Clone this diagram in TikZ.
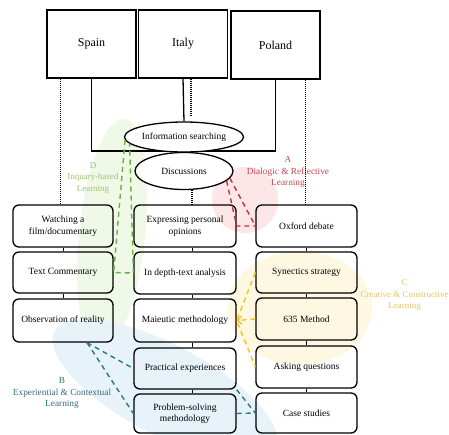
\documentclass[tikz,border=0pt]{standalone}
\usepackage{fontspec}
\setmainfont{Liberation Serif}
\usetikzlibrary{shapes.geometric,arrows.meta,calc}
\definecolor{bgred}{HTML}{FCE6E8}
\definecolor{bgyel}{HTML}{FEF8E3}
\definecolor{bgblue}{HTML}{E7F2F9}
\definecolor{bggreen}{HTML}{F0F8E8}
\definecolor{lred}{HTML}{C8303E}
\definecolor{lgreen}{HTML}{6AB23C}
\definecolor{lyel}{HTML}{F1C323}
\definecolor{lteal}{HTML}{2B7686}
\definecolor{tred}{HTML}{C44552}
\definecolor{tgreen}{HTML}{97C76F}
\definecolor{tyel}{HTML}{E6C36C}
\definecolor{tteal}{HTML}{2F6D7E}
\tikzset{
  country/.style={draw, line width=1.3pt, minimum width=89pt, minimum height=68pt, inner sep=0pt, font=\fontsize{12}{14}\selectfont},
  stepbox/.style={draw, line width=1.3pt, rounded corners=6pt, minimum width=100pt, minimum height=42pt, inner sep=0pt, align=center, font=\fontsize{9.5}{11.5}\selectfont},
  oval/.style={ellipse, draw, line width=1.3pt, fill=white, inner sep=0pt, minimum width=98pt, font=\fontsize{9.5}{11.5}\selectfont},
  grouplabel/.style={align=center, font=\fontsize{9.3}{11.5}\selectfont},
  dotline/.style={line width=1.3pt, dash pattern=on 1pt off 1pt},
  solidline/.style={line width=1.3pt},
  tick/.style={line width=1pt},
  gdash/.style={line width=1.4pt, dash pattern=on 5pt off 4pt}
}
\begin{document}
\begin{tikzpicture}[x=1pt,y=-1pt]
\useasboundingbox (0,0) rectangle (449,434);
% background blobs
\fill[bggreen, rotate around={-6:(112,235)}] (112,235) ellipse [x radius=33, y radius=117];
\fill[bgyel] (300,308) ellipse [x radius=72, y radius=57];
\fill[bgblue, rotate around={-28:(165,390)}] (165,390) ellipse [x radius=125, y radius=45];
\fill[bgred] (245,200) circle [radius=33];
% group labels
\node[grouplabel, text=tgreen, font=\fontsize{9}{11.5}\selectfont] (labD) at (93,178) {D\\Inquary-based\\Learning};
\node[grouplabel, text=tred] (labA) at (288,172) {A\\Dialogic \& Reflective\\Learning};
\node[grouplabel, text=tyel, font=\fontsize{9}{11.5}\selectfont] (labC) at (404.5,295) {C\\Creative \& Constructive\\Learning};
\node[grouplabel, text=tteal] (labB) at (62,393) {B\\Experiential \& Contextual\\Learning};
% countries
\node[country] (spain) at (91.5,44) {Spain};
\node[country] (italy) at (183,44) {Italy};
\node[country] (poland) at (275.5,45) {Poland};
\coordinate (hl) at (91.5,151);
\coordinate (hr) at (275.5,151);
\draw[solidline] (spain.south) -- (hl) -- (hr) -- (poland.south);
% ellipses
\node[oval, minimum height=30pt] (info) at (184,137) {Information searching};
\node[oval, minimum height=37pt] (disc) at (184,171) {Discussions};
% boxes
\node[stepbox] (watch) at (63,226) {Watching a\\film/documentary};
\node[stepbox, minimum height=41pt] (textc) at (63,272.5) {Text Commentary};
\node[stepbox, minimum height=43pt] (obs) at (63,320.5) {Observation of reality};
\node[stepbox, minimum width=102pt] (expr) at (185,226) {Expressing personal\\opinions};
\node[stepbox, minimum width=102pt] (indep) at (185,273) {In depth-text analysis};
\node[stepbox, minimum width=102pt, minimum height=43pt] (maie) at (185,320.5) {Maieutic methodology};
\node[stepbox, minimum width=102pt, minimum height=41pt] (prac) at (185,368.5) {Practical experiences};
\node[stepbox, minimum width=102pt, minimum height=39pt] (prob) at (185,413.5) {Problem-solving\\methodology};
\node[stepbox, minimum width=101pt] (oxf) at (306.5,226) {Oxford debate};
\node[stepbox, minimum width=101pt, minimum height=41pt] (syn) at (306.5,272.5) {Synectics strategy};
\node[stepbox, minimum width=101pt] (six) at (306.5,319) {635 Method};
\node[stepbox, minimum width=101pt] (ask) at (306.5,367) {Asking questions};
\node[stepbox, minimum width=101pt, minimum height=40pt] (case) at (306.5,413) {Case studies};
% vertical links from countries
\draw[solidline] (italy.south) -- (info.north);
\coordinate (itdot) at (191,116);
\draw[dotline] ([xshift=8pt]italy.south) -- (itdot);
\draw[dotline] ([xshift=14pt]spain.south west) -- ([xshift=14pt]spain.south west |- watch.north);
\draw[dotline] ([xshift=30pt]poland.south) -- ([xshift=30pt]poland.south |- oxf.north);
\draw[dotline] ([xshift=7pt]expr.north |- disc.south) -- ([xshift=7pt]expr.north);
% ticks between stacked boxes
\draw[tick] (watch.south) -- (textc.north);
\draw[tick] (textc.south) -- (obs.north);
\draw[tick] ([xshift=7pt]expr.south) -- ([xshift=7pt]indep.north);
\draw[tick] ([xshift=7pt]indep.south) -- ([xshift=7pt]maie.north);
\draw[tick] ([xshift=7pt]maie.south) -- ([xshift=7pt]prac.north);
\draw[tick] ([xshift=7pt]prac.south) -- ([xshift=7pt]prob.north);
\draw[tick] (oxf.south) -- (syn.north);
\draw[tick] (syn.south) -- (six.north);
\draw[tick] (six.south) -- (ask.north);
\draw[tick] (ask.south) -- (case.north);
% A: red
\draw[gdash, lred] (disc.-13) -- (expr.east) -- (oxf.west);
\draw[gdash, lred] (disc.-9) -- (oxf.west);
% D: green
\draw[gdash, lgreen] (info.183) -- (textc.east) -- (indep.west) -- (info.187);
% C: yellow
\draw[gdash, lyel] (syn.west) -- (maie.east) -- (ask.west);
\draw[gdash, lyel, -{Straight Barb[length=4pt,width=8pt]}] (six.west) -- (maie.east);
% B: teal
\draw[gdash, lteal] ([xshift=24pt]obs.south) -- (prac.west);
\draw[gdash, lteal] ([xshift=24pt]obs.south) -- (prob.west);
\draw[gdash, lteal] (prac.south east) -- (case.west);
\draw[gdash, lteal] (prob.east) -- (case.west);
\end{tikzpicture}
\end{document}
